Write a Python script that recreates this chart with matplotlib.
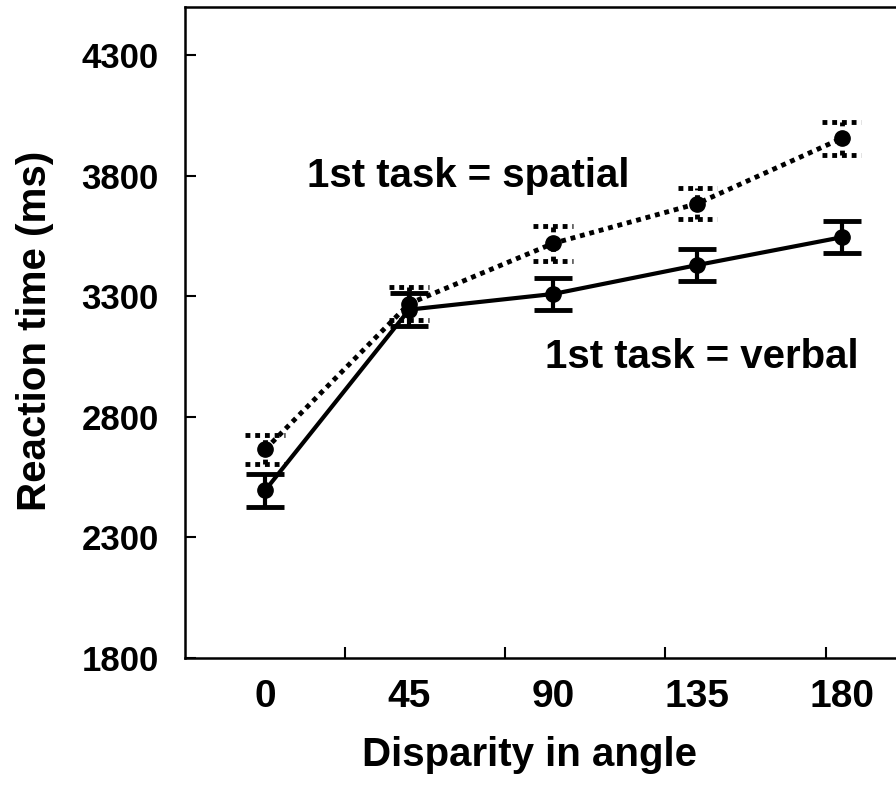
import matplotlib
matplotlib.use("Agg")
import matplotlib.pyplot as plt
import numpy as np

plt.rcParams["font.family"] = ["Liberation Sans", "DejaVu Sans"]
plt.rcParams["font.weight"] = "bold"

angles = [0, 45, 90, 135, 180]
angle_labels = ["0", "45", "90", "135", "180"]
verbal_rt = [2495, 3245, 3310, 3430, 3545]
verbal_err = [70, 68, 65, 67, 67]
spatial_rt = [2665, 3270, 3520, 3685, 3955]
spatial_err = [62, 70, 72, 65, 67]
y_ticks = [1800, 2300, 2800, 3300, 3800, 4300]
x_marks = [25, 75, 125, 175]

fig = plt.figure(figsize=(8.96, 7.85), dpi=100)
ax = fig.add_axes([0.2065, 0.1618, 0.7935, 0.8292])

x = np.array(angles, dtype=float)
ys = np.array(spatial_rt, dtype=float)
es = np.array(spatial_err, dtype=float)
yv = np.array(verbal_rt, dtype=float)
ev = np.array(verbal_err, dtype=float)

# spatial: dotted line, dotted error bars
dot = (0, (1, 1))
ax.plot(x, ys, color="black", lw=3.5, linestyle=dot, zorder=3)
ax.vlines(x, ys - es, ys + es, color="black", lw=3.5, linestyles=dot, zorder=3)
cap = 6.2
ax.hlines(np.r_[ys - es, ys + es], np.r_[x, x] - cap, np.r_[x, x] + cap,
          color="black", lw=3.5, linestyles=dot, zorder=3)
ax.plot(x, ys, "o", color="black", ms=11, zorder=4)

# verbal: solid line, solid error bars
ax.errorbar(x, yv, yerr=ev, color="black", lw=3, marker="o", ms=11,
            capsize=14, capthick=3.5, elinewidth=3, zorder=4)

ax.text(63.5, 3800, "1st task = spatial", fontsize=29, fontweight="bold", va="center", ha="center")
ax.text(136.5, 3050, "1st task = verbal", fontsize=29, fontweight="bold", va="center", ha="center")

ax.set_xlim(-25, 197)
ax.set_ylim(1800, 4500)
ax.set_yticks(y_ticks)
ax.set_yticklabels([str(t) for t in y_ticks])
ax.set_xticks(x_marks)
ax.set_xticklabels([])
ax.set_xticks(angles, minor=True)
ax.set_xticklabels(angle_labels, minor=True)
ax.tick_params(axis="x", which="major", direction="in", length=8, width=1.5)
ax.tick_params(axis="x", which="minor", length=0, pad=15, labelsize=28)
ax.tick_params(axis="y", direction="in", length=8, width=1.5, pad=19, labelsize=25)
for lab in ax.get_xticklabels(minor=True) + ax.get_yticklabels():
    lab.set_fontweight("bold")

ax.spines["right"].set_visible(False)
for s in ["left", "top", "bottom"]:
    ax.spines[s].set_linewidth(1.8)

fig.text(35 / 896, 1 - 331 / 785, "Reaction time (ms)", rotation=90, fontsize=29,
         fontweight="bold", ha="center", va="center")
fig.text(529 / 896, 1 - 755 / 785, "Disparity in angle", fontsize=29,
         fontweight="bold", ha="center", va="center")

fig.savefig("out.png", dpi=100)
